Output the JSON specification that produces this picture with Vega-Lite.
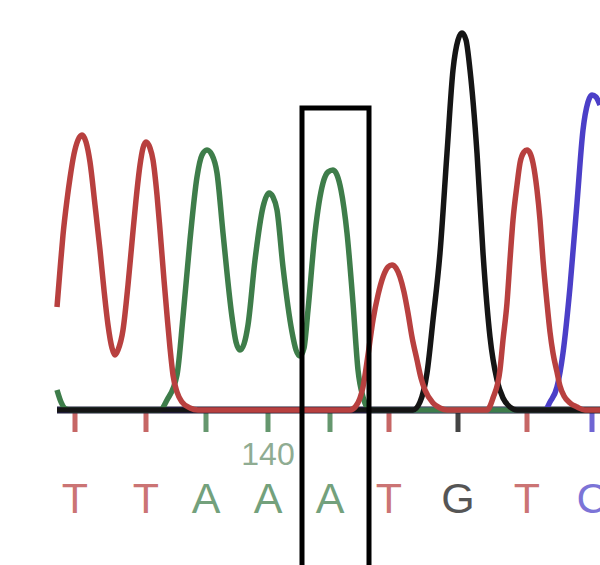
{
  "$schema": "https://vega.github.io/schema/vega-lite/v6.json",
  "width": 600,
  "height": 565,
  "padding": 0,
  "autosize": "none",
  "background": "white",
  "config": {"view": {"stroke": null}},
  "datasets": {
    "traces": [
      {"base": "C", "x": 57, "y": 0}, {"base": "C", "x": 545, "y": 0}, {"base": "C", "x": 550, "y": 8}, {"base": "C", "x": 557, "y": 23}, {"base": "C", "x": 563, "y": 57}, {"base": "C", "x": 570, "y": 123}, {"base": "C", "x": 577, "y": 207}, {"base": "C", "x": 583, "y": 280}, {"base": "C", "x": 588, "y": 308}, {"base": "C", "x": 592, "y": 315}, {"base": "C", "x": 596, "y": 313}, {"base": "C", "x": 600, "y": 305},

      {"base": "A", "x": 57, "y": 20}, {"base": "A", "x": 61, "y": 8}, {"base": "A", "x": 66, "y": 1}, {"base": "A", "x": 72, "y": 0}, {"base": "A", "x": 160, "y": 0}, {"base": "A", "x": 167, "y": 10}, {"base": "A", "x": 177, "y": 35}, {"base": "A", "x": 183, "y": 93}, {"base": "A", "x": 190, "y": 170}, {"base": "A", "x": 197, "y": 233}, {"base": "A", "x": 202, "y": 255}, {"base": "A", "x": 207, "y": 260}, {"base": "A", "x": 212, "y": 255}, {"base": "A", "x": 217, "y": 237}, {"base": "A", "x": 223, "y": 177}, {"base": "A", "x": 232, "y": 93}, {"base": "A", "x": 236, "y": 68}, {"base": "A", "x": 240, "y": 60}, {"base": "A", "x": 244, "y": 66}, {"base": "A", "x": 248, "y": 85}, {"base": "A", "x": 255, "y": 150}, {"base": "A", "x": 263, "y": 203}, {"base": "A", "x": 269, "y": 217}, {"base": "A", "x": 273, "y": 213}, {"base": "A", "x": 277, "y": 200}, {"base": "A", "x": 283, "y": 143}, {"base": "A", "x": 292, "y": 78}, {"base": "A", "x": 296, "y": 60}, {"base": "A", "x": 300, "y": 54}, {"base": "A", "x": 304, "y": 62}, {"base": "A", "x": 308, "y": 100}, {"base": "A", "x": 315, "y": 177}, {"base": "A", "x": 323, "y": 227}, {"base": "A", "x": 328, "y": 238}, {"base": "A", "x": 333, "y": 240}, {"base": "A", "x": 337, "y": 235}, {"base": "A", "x": 341, "y": 220}, {"base": "A", "x": 347, "y": 177}, {"base": "A", "x": 353, "y": 107}, {"base": "A", "x": 358, "y": 40}, {"base": "A", "x": 363, "y": 13}, {"base": "A", "x": 370, "y": 0}, {"base": "A", "x": 600, "y": 0},

      {"base": "G", "x": 57, "y": 0}, {"base": "G", "x": 413, "y": 0}, {"base": "G", "x": 420, "y": 8}, {"base": "G", "x": 427, "y": 37}, {"base": "G", "x": 433, "y": 90}, {"base": "G", "x": 440, "y": 157}, {"base": "G", "x": 447, "y": 257}, {"base": "G", "x": 453, "y": 340}, {"base": "G", "x": 458, "y": 370}, {"base": "G", "x": 462, "y": 377}, {"base": "G", "x": 466, "y": 370}, {"base": "G", "x": 470, "y": 340}, {"base": "G", "x": 477, "y": 257}, {"base": "G", "x": 483, "y": 157}, {"base": "G", "x": 490, "y": 73}, {"base": "G", "x": 497, "y": 30}, {"base": "G", "x": 503, "y": 12}, {"base": "G", "x": 510, "y": 3}, {"base": "G", "x": 517, "y": 0}, {"base": "G", "x": 600, "y": 0},

      {"base": "T", "x": 57, "y": 103}, {"base": "T", "x": 60, "y": 140}, {"base": "T", "x": 63, "y": 175}, {"base": "T", "x": 67, "y": 210}, {"base": "T", "x": 70, "y": 232}, {"base": "T", "x": 74, "y": 256}, {"base": "T", "x": 78, "y": 270}, {"base": "T", "x": 82, "y": 275}, {"base": "T", "x": 86, "y": 268}, {"base": "T", "x": 90, "y": 248}, {"base": "T", "x": 95, "y": 205}, {"base": "T", "x": 100, "y": 160}, {"base": "T", "x": 104, "y": 120}, {"base": "T", "x": 108, "y": 85}, {"base": "T", "x": 112, "y": 62}, {"base": "T", "x": 115, "y": 55}, {"base": "T", "x": 118, "y": 60}, {"base": "T", "x": 123, "y": 80}, {"base": "T", "x": 128, "y": 125}, {"base": "T", "x": 132, "y": 168}, {"base": "T", "x": 136, "y": 210}, {"base": "T", "x": 140, "y": 245}, {"base": "T", "x": 143, "y": 262}, {"base": "T", "x": 146, "y": 268}, {"base": "T", "x": 150, "y": 262}, {"base": "T", "x": 153, "y": 250}, {"base": "T", "x": 157, "y": 215}, {"base": "T", "x": 160, "y": 180}, {"base": "T", "x": 164, "y": 130}, {"base": "T", "x": 167, "y": 95}, {"base": "T", "x": 170, "y": 62}, {"base": "T", "x": 173, "y": 35}, {"base": "T", "x": 177, "y": 18}, {"base": "T", "x": 182, "y": 8}, {"base": "T", "x": 190, "y": 2}, {"base": "T", "x": 198, "y": 0}, {"base": "T", "x": 350, "y": 0}, {"base": "T", "x": 356, "y": 4}, {"base": "T", "x": 363, "y": 23}, {"base": "T", "x": 368, "y": 55}, {"base": "T", "x": 373, "y": 90}, {"base": "T", "x": 378, "y": 115}, {"base": "T", "x": 383, "y": 133}, {"base": "T", "x": 388, "y": 143}, {"base": "T", "x": 392, "y": 145}, {"base": "T", "x": 396, "y": 142}, {"base": "T", "x": 400, "y": 133}, {"base": "T", "x": 404, "y": 118}, {"base": "T", "x": 408, "y": 97}, {"base": "T", "x": 412, "y": 73}, {"base": "T", "x": 417, "y": 50}, {"base": "T", "x": 421, "y": 32}, {"base": "T", "x": 425, "y": 20}, {"base": "T", "x": 433, "y": 7}, {"base": "T", "x": 440, "y": 2}, {"base": "T", "x": 447, "y": 0}, {"base": "T", "x": 487, "y": 0}, {"base": "T", "x": 493, "y": 12}, {"base": "T", "x": 500, "y": 40}, {"base": "T", "x": 503, "y": 70}, {"base": "T", "x": 507, "y": 107}, {"base": "T", "x": 510, "y": 150}, {"base": "T", "x": 513, "y": 190}, {"base": "T", "x": 517, "y": 225}, {"base": "T", "x": 520, "y": 247}, {"base": "T", "x": 524, "y": 258}, {"base": "T", "x": 527, "y": 260}, {"base": "T", "x": 530, "y": 257}, {"base": "T", "x": 533, "y": 247}, {"base": "T", "x": 537, "y": 220}, {"base": "T", "x": 540, "y": 190}, {"base": "T", "x": 543, "y": 150}, {"base": "T", "x": 547, "y": 107}, {"base": "T", "x": 550, "y": 78}, {"base": "T", "x": 553, "y": 57}, {"base": "T", "x": 557, "y": 38}, {"base": "T", "x": 560, "y": 24}, {"base": "T", "x": 564, "y": 14}, {"base": "T", "x": 570, "y": 7}, {"base": "T", "x": 577, "y": 3}, {"base": "T", "x": 585, "y": 0}, {"base": "T", "x": 600, "y": 0}
    ],
    "calls": [
      {"pos": 137, "base": "T", "x": 75},
      {"pos": 138, "base": "T", "x": 146},
      {"pos": 139, "base": "A", "x": 206},
      {"pos": 140, "base": "A", "x": 268},
      {"pos": 141, "base": "A", "x": 330},
      {"pos": 142, "base": "T", "x": 389},
      {"pos": 143, "base": "G", "x": 458},
      {"pos": 144, "base": "T", "x": 527},
      {"pos": 145, "base": "C", "x": 592}
    ],
    "box": [{"x": 302, "x2": 369, "y": 302, "y2": -170}]
  },
  "layer": [
    {
      "data": {"name": "calls"},
      "mark": {"type": "rule", "strokeWidth": 5, "opacity": 0.8},
      "encoding": {
        "x": {"field": "x", "type": "quantitative", "scale": {"domain": [0, 600], "nice": false, "zero": false}, "axis": null},
        "y": {"datum": -1, "type": "quantitative", "scale": {"domain": [-155, 410], "nice": false, "zero": false}, "axis": null},
        "y2": {"datum": -22},
        "color": {"field": "base", "type": "nominal", "legend": null, "scale": {"domain": ["A", "C", "G", "T"], "range": ["#3e7d4a", "#4b3fc8", "#151515", "#b8403f"]}}
      }
    },
    {
      "data": {"values": [{}]},
      "mark": {"type": "rule", "strokeWidth": 7, "color": "#1e1e38"},
      "encoding": {
        "x": {"datum": 57, "type": "quantitative"},
        "x2": {"datum": 600},
        "y": {"datum": 0, "type": "quantitative"}
      }
    },
    {
      "data": {"name": "traces"},
      "transform": [{"filter": "datum.base === 'C'"}],
      "mark": {"type": "line", "strokeWidth": 5.5, "interpolate": "monotone"},
      "encoding": {
        "x": {"field": "x", "type": "quantitative"},
        "y": {"field": "y", "type": "quantitative"},
        "color": {"field": "base", "type": "nominal", "legend": null}
      }
    },
    {
      "data": {"name": "traces"},
      "transform": [{"filter": "datum.base === 'A'"}],
      "mark": {"type": "line", "strokeWidth": 5.5, "interpolate": "monotone"},
      "encoding": {
        "x": {"field": "x", "type": "quantitative"},
        "y": {"field": "y", "type": "quantitative"},
        "color": {"field": "base", "type": "nominal", "legend": null}
      }
    },
    {
      "data": {"name": "traces"},
      "transform": [{"filter": "datum.base === 'G'"}],
      "mark": {"type": "line", "strokeWidth": 5.5, "interpolate": "monotone"},
      "encoding": {
        "x": {"field": "x", "type": "quantitative"},
        "y": {"field": "y", "type": "quantitative"},
        "color": {"field": "base", "type": "nominal", "legend": null}
      }
    },
    {
      "data": {"name": "traces"},
      "transform": [{"filter": "datum.base === 'T'"}],
      "mark": {"type": "line", "strokeWidth": 5.5, "interpolate": "monotone"},
      "encoding": {
        "x": {"field": "x", "type": "quantitative"},
        "y": {"field": "y", "type": "quantitative"},
        "color": {"field": "base", "type": "nominal", "legend": null}
      }
    },
    {
      "data": {"name": "calls"},
      "mark": {"type": "text", "font": "Liberation Sans", "fontSize": 43, "baseline": "alphabetic", "align": "center", "opacity": 0.72, "stroke": null},
      "encoding": {
        "x": {"field": "x", "type": "quantitative"},
        "y": {"datum": -103, "type": "quantitative"},
        "text": {"field": "base"},
        "color": {"field": "base", "type": "nominal", "legend": null}
      }
    },
    {
      "data": {"name": "calls"},
      "transform": [{"filter": "datum.pos === 140"}],
      "mark": {"type": "text", "font": "Liberation Sans", "fontSize": 32, "baseline": "alphabetic", "align": "center", "color": "#8fac92"},
      "encoding": {
        "x": {"field": "x", "type": "quantitative"},
        "y": {"datum": -55, "type": "quantitative"},
        "text": {"field": "pos", "type": "quantitative"}
      }
    },
    {
      "data": {"name": "box"},
      "mark": {"type": "rect", "fillOpacity": 0, "stroke": "#000000", "strokeWidth": 5, "clip": true},
      "encoding": {
        "x": {"field": "x", "type": "quantitative"},
        "x2": {"field": "x2"},
        "y": {"field": "y", "type": "quantitative"},
        "y2": {"field": "y2"}
      }
    }
  ]
}
